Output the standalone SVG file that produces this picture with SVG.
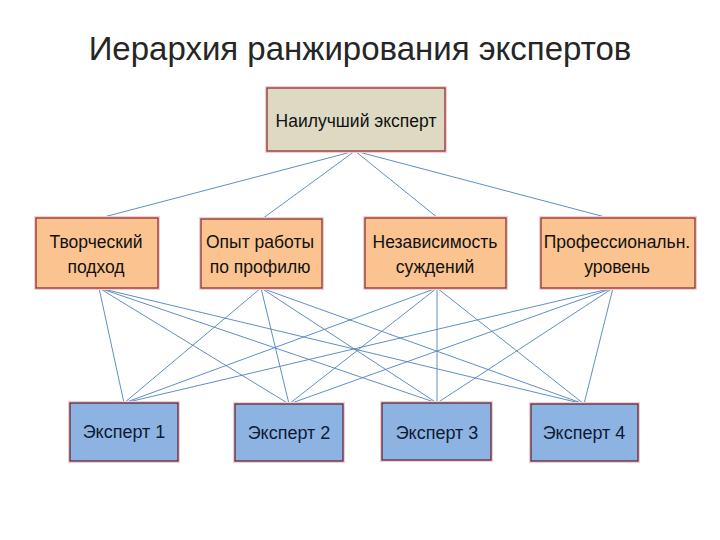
<svg xmlns="http://www.w3.org/2000/svg" width="720" height="540" viewBox="0 0 720 540">
<style>
text{font-family:"Liberation Sans","Noto Sans",sans-serif;text-anchor:middle}
.title{font-size:33px;fill:#262626}
.t{font-size:17.5px;fill:#111}
.tb{font-size:18px;fill:#0f1a33}
.top{fill:#DDD9C3;stroke:#8E3434;stroke-width:1.3}
.mid{fill:#FAC38F;stroke:#8E3434;stroke-width:1.3}
.bot{fill:#8DB3E2;stroke:#5a2a40;stroke-width:1.3}
.glow{fill:none;stroke:#f6cccc;stroke-width:4}
.c line{stroke:#4F81BD;stroke-width:0.9}
</style>
<rect width="720" height="540" fill="#fff"/>
<text class="title" x="360" y="60">Иерархия ранжирования экспертов</text>
<g class="c" id="connectors">
<line x1="355" y1="151" x2="100" y2="218"/>
<line x1="355" y1="151" x2="262" y2="219"/>
<line x1="355" y1="151" x2="438" y2="218"/>
<line x1="355" y1="151" x2="609" y2="218"/>
<line x1="99" y1="288" x2="124" y2="403"/>
<line x1="99" y1="288" x2="289" y2="404"/>
<line x1="99" y1="288" x2="437" y2="403"/>
<line x1="99" y1="288" x2="584" y2="404"/>
<line x1="261" y1="288" x2="124" y2="403"/>
<line x1="261" y1="288" x2="289" y2="404"/>
<line x1="261" y1="288" x2="437" y2="403"/>
<line x1="261" y1="288" x2="584" y2="404"/>
<line x1="437" y1="288" x2="124" y2="403"/>
<line x1="437" y1="288" x2="289" y2="404"/>
<line x1="437" y1="288" x2="437" y2="403"/>
<line x1="437" y1="288" x2="584" y2="404"/>
<line x1="613" y1="288" x2="124" y2="403"/>
<line x1="613" y1="288" x2="289" y2="404"/>
<line x1="613" y1="288" x2="437" y2="403"/>
<line x1="613" y1="288" x2="584" y2="404"/>
</g>
<g id="best">
<rect class="glow" x="267" y="88" width="178" height="63"/>
<rect class="top" x="267" y="88" width="178" height="63"/>
<text class="t" x="356" y="127">Наилучший эксперт</text>
</g>
<g id="creative">
<rect class="glow" x="36" y="218" width="122" height="70"/>
<rect class="mid" x="36" y="218" width="122" height="70"/>
<text class="t" x="96" y="248">Творческий</text>
<text class="t" x="96" y="273">подход</text>
</g>
<g id="experience">
<rect class="glow" x="201" y="219" width="121" height="69"/>
<rect class="mid" x="201" y="219" width="121" height="69"/>
<text class="t" x="260" y="248">Опыт работы</text>
<text class="t" x="260" y="273">по профилю</text>
</g>
<g id="independence">
<rect class="glow" x="365" y="218" width="141" height="70"/>
<rect class="mid" x="365" y="218" width="141" height="70"/>
<text class="t" x="435" y="248">Независимость</text>
<text class="t" x="435" y="273">суждений</text>
</g>
<g id="professional">
<rect class="glow" x="541" y="218" width="154" height="70"/>
<rect class="mid" x="541" y="218" width="154" height="70"/>
<text class="t" x="617" y="248">Профессиональн.</text>
<text class="t" x="617" y="273">уровень</text>
</g>
<g id="expert1">
<rect class="glow" x="70" y="403" width="108" height="58"/>
<rect class="bot" x="70" y="403" width="108" height="58"/>
<text class="tb" x="124" y="438">Эксперт 1</text>
</g>
<g id="expert2">
<rect class="glow" x="235" y="404" width="108" height="57"/>
<rect class="bot" x="235" y="404" width="108" height="57"/>
<text class="tb" x="289" y="439">Эксперт 2</text>
</g>
<g id="expert3">
<rect class="glow" x="382" y="403" width="109" height="57"/>
<rect class="bot" x="382" y="403" width="109" height="57"/>
<text class="tb" x="437" y="439">Эксперт 3</text>
</g>
<g id="expert4">
<rect class="glow" x="531" y="404" width="107" height="57"/>
<rect class="bot" x="531" y="404" width="107" height="57"/>
<text class="tb" x="584" y="439">Эксперт 4</text>
</g>
</svg>
